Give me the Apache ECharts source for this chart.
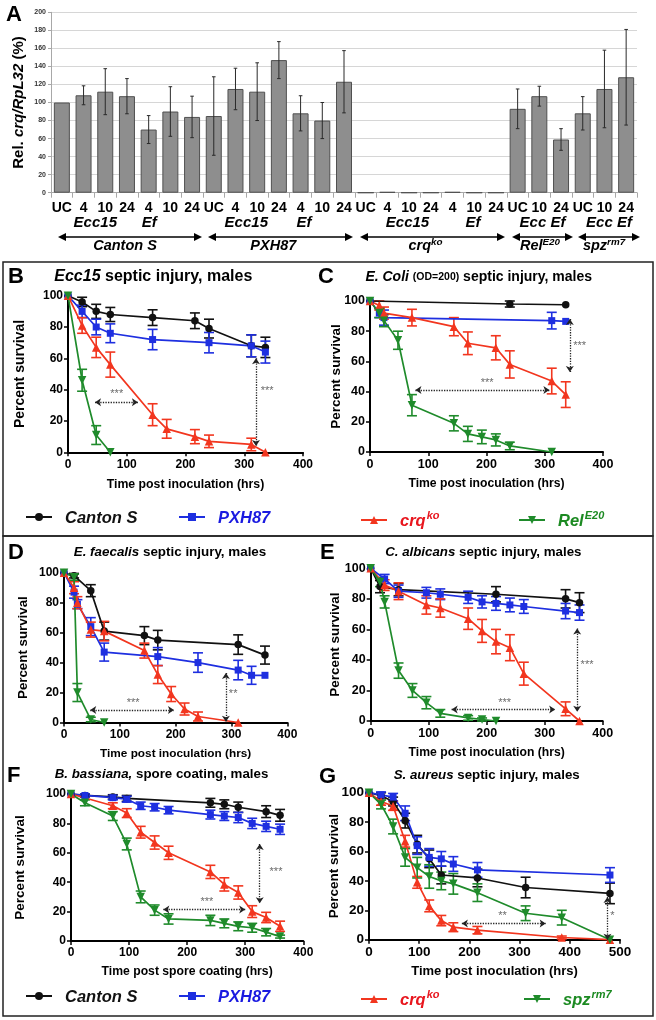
<!DOCTYPE html>
<html><head><meta charset="utf-8">
<script src="https://cdn.jsdelivr.net/npm/echarts@6/dist/echarts.min.js"></script>
<style>html,body{margin:0;padding:0;background:#fff}#c{width:656px;height:1020px}</style>
</head><body><div id="c"></div>
<script>
const FONT = 'Liberation Sans, Arial, Helvetica, sans-serif';

// ---------- Panel A data ----------
const aCategories = ['UC','4','10','24','4','10','24','UC','4','10','24','4','10','24','UC','4','10','24','4','10','24','UC','10','24','UC','10','24'];
const aValues = [100,108,112,107,70,90,84, 85,115,112,147,88,80,123, 0,0.8,0,0,0.8,0,0, 93,107,59, 88,115,128];
const aErrors = [0,10.5,25.5,19.5,15.5,27.5,23, 43.5,23,32,20.5,19.5,20,34.5, 0,0,0,0,0,0,0, 22,11,12, 18.5,43,53];
const aYTicks = [0,20,40,60,80,100,120,140,160,180,200];

// ---------- Survival data: [time (hrs), percent survival, error] ----------
const B_canton = [[0,100,0],[24,96,3],[48,90,4.5],[72,88,4.5],[144,86,5],[216,84,5],[240,79,6],[312,68,7],[336,67,6.5]];
const B_pxh    = [[0,100,0],[24,90,4],[48,80,5],[72,76,6],[144,72,6.5],[240,70,6.5],[312,68,7],[336,64,7]];
const B_crq    = [[0,100,0],[24,81,5],[48,67,6.5],[72,56,8],[144,24,7],[168,15,6],[216,10,4.5],[240,7,4],[312,5,4],[336,0,0]];
const B_green  = [[0,100,0],[24,46,7],[48,11,6],[72,0,0]];

const C_canton = [[0,100,0],[240,98,2],[336,97.5,0]];
const C_pxh    = [[0,100,0],[16,92,3],[24,89,5],[312,87,5.5],[336,86.5,0]];
const C_crq    = [[0,100,0],[16,97,3],[24,92,4],[72,89,5.5],[144,83,6],[168,72,7.5],[216,69,8],[240,58,9],[312,47,8.5],[336,38,8.5]];
const C_green  = [[0,100,0],[16,92,3],[24,87,4],[48,74,6],[72,31,7],[144,19,5],[168,12,5],[192,10,4.5],[216,8,4],[240,4,2.5],[312,0,0]];

const D_canton = [[0,100,0],[18,98,1.5],[48,88,4],[72,61,6],[144,58,6],[168,55,6.5],[312,52,6.5],[360,45,6]];
const D_pxh    = [[0,100,0],[18,87,4],[24,79,3],[48,64,6],[72,47,6],[168,44,6],[240,40,6.5],[312,35,6.5],[336,31.5,6],[360,31.5,0]];
const D_crq    = [[0,100,0],[18,90,4],[24,80,4],[48,62,5],[72,61,6.5],[144,48,5],[168,32,6],[192,19,5],[216,9,4],[240,4,3],[312,0,0]];
const D_green  = [[0,100,0],[18,97,2],[24,20,6],[48,2,1.5],[72,0,0]];

const E_canton = [[0,100,0],[16,88,4],[48,86,4],[216,83,5],[336,80,6],[360,77.5,6.5]];
const E_pxh    = [[0,100,0],[24,93,3],[48,85,4],[96,84,3.5],[120,83,3.5],[168,81,4],[192,78,4],[216,77,4.5],[240,76,4.5],[264,75,4.5],[336,72,5],[360,71,5]];
const E_crq    = [[0,100,0],[24,89,3.5],[48,85,5.5],[96,76,6],[120,74,6],[168,67,7],[192,59,7.5],[216,52,8],[240,48,8.5],[264,31,7.5],[336,8,4.5],[360,0,0]];
const E_green  = [[0,100,0],[16,91,3],[24,78,4],[48,33,5],[72,20,4.5],[96,12,4],[120,5,2.5],[168,2,1.5],[192,1,1],[216,0,0]];

const F_canton = [[0,100,0],[24,99,1],[72,98,1.5],[96,97,2],[240,94,3],[264,93,3],[288,91,3.5],[336,88,4],[360,85.5,4]];
const F_pxh    = [[0,100,0],[24,99,1],[72,97.5,1.5],[96,96.5,2],[120,92,2.5],[144,91,2.5],[168,89,2.5],[240,86,3],[264,85,3],[288,84,3.5],[312,80,3.5],[336,78,3.5],[360,76,3.5]];
const F_crq    = [[0,100,0],[72,92,2],[96,87,3],[120,74,4],[144,67,4.5],[168,60,4.5],[240,47,4.5],[264,38.5,4.5],[288,33,4.5],[312,20,4],[336,16,3.5],[360,10,3.5]];
const F_green  = [[0,100,0],[24,94,2],[72,85,3],[96,66,4],[120,30,4],[144,21,3.5],[168,15,3.5],[240,14,3.5],[264,12,3],[288,10,3],[312,9,3],[336,6,2.5],[360,3,1]];

const G_canton = [[0,100,0],[24,98,2],[48,94,3],[72,81,5],[96,65,6],[120,55,6],[144,44,6],[216,42,6],[312,35.5,7],[480,31.5,7]];
const G_pxh    = [[0,100,0],[24,98.5,2],[48,97,2.5],[72,86,5],[96,64,6],[120,56,6],[144,55,5],[168,51.5,5],[216,47.5,5],[480,44,5]];
const G_crq    = [[0,100,0],[24,94,2.5],[48,91,3],[72,67,4],[96,39,4],[120,23,4],[144,13,3.5],[168,8.5,3],[216,6.5,2.5],[384,1.5,1],[480,0,0]];
const G_green  = [[0,100,0],[24,92,3],[48,77,5],[72,56,6],[96,49,7],[120,43,8],[144,40,6],[168,38,7],[216,32,6],[312,18,5],[384,15,5],[480,0,0]];

// significance arrows [x1,y1,x2,y2] and notes [x,y,text] in data units
const B_arrows = [[46,32,119,32],[320,60,320,4]];
const B_notes  = [[83,37,'***'],[339,39,'***']];
const C_arrows = [[343,88,343,53],[78,41,308,41]];
const C_notes  = [[360,70,'***'],[201,46,'***']];
const D_arrows = [[47,8.3,197,8.3],[290,33,290,0.5]];
const D_notes  = [[124,13,'***'],[303,19,'**']];
const E_arrows = [[356,60.6,356,6],[139.5,7.6,318,7.6]];
const E_notes  = [[373,36.6,'***'],[231,12,'***']];
const F_arrows = [[325,66,325,25.6],[159,21.5,300,21.5]];
const F_notes  = [[353,47,'***'],[234,26.3,'***']];
const G_arrows = [[185,11,352,11],[475,29,475,0]];
const G_notes  = [[266,16,'**'],[485,16,'*']];

const survTicks = [0,20,40,60,80,100];

// ---------- styles ----------
const COL = {canton:'#111111', pxh:'#1e2fe0', crq:'#f2361f', green:'#1f8b2b'};
const TXTCOL = {canton:'#111111', pxh:'#1a1ae0', crq:'#e8161e', green:'#1c8a22'};
const SYM = {canton:['circle',7.5], pxh:['rect',7], crq:['triangle',8.5], green:['path://M0,0L10,0L5,9Z',8.5]};

function errRender(color, half, lw) {
  return function (params, api) {
    const x = api.value(0), v = api.value(1), e = api.value(2);
    if (!e) return null;
    const p1 = api.coord([x, v + e]), p2 = api.coord([x, v - e]);
    const st = {stroke: color, lineWidth: lw};
    return {type:'group', children:[
      {type:'line', shape:{x1:p1[0], y1:p1[1], x2:p2[0], y2:p2[1]}, style:st},
      {type:'line', shape:{x1:p1[0]-half, y1:p1[1], x2:p1[0]+half, y2:p1[1]}, style:st},
      {type:'line', shape:{x1:p2[0]-half, y1:p2[1], x2:p2[0]+half, y2:p2[1]}, style:st}
    ]};
  };
}

const grids = [], xAxes = [], yAxes = [], series = [];

// ---------- Panel A ----------
grids.push({left:51, top:12.3, width:586, height:180.4});
xAxes.push({type:'category', gridIndex:0, data:aCategories,
  axisLine:{lineStyle:{color:'#a8a8a8'}}, axisTick:{show:true, length:5, lineStyle:{color:'#a8a8a8'}},
  axisLabel:{interval:0, margin:8, fontSize:14, fontWeight:'bold', color:'#000', fontFamily:FONT}});
yAxes.push({type:'value', gridIndex:0, min:aYTicks[0], max:aYTicks[aYTicks.length-1], interval:20,
  axisLine:{show:true, lineStyle:{color:'#a8a8a8'}}, axisTick:{show:true, length:3, lineStyle:{color:'#a8a8a8'}},
  axisLabel:{fontSize:7, fontWeight:'bold', color:'#333', margin:5, fontFamily:FONT},
  splitLine:{lineStyle:{color:'#d6d6d6'}},
  name:'{n|Rel. }{i|crq/RpL32}{n| (%)}', nameLocation:'middle', nameGap:25, nameMoveOverlap:false,
  nameTextStyle:{rich:{n:{fontSize:15, fontWeight:'bold', fontFamily:FONT, color:'#000'},
                       i:{fontSize:15, fontWeight:'bold', fontStyle:'italic', fontFamily:FONT, color:'#000'}}}});
series.push({type:'bar', xAxisIndex:0, yAxisIndex:0, data:aValues, barWidth:16, z:2,
  itemStyle:{color:'#8e8e8e', borderColor:'#505050', borderWidth:1}});
series.push({type:'custom', name:'aerr', xAxisIndex:0, yAxisIndex:0, z:3,
  data:aValues.map((v,i)=>[i, v, aErrors[i]]), renderItem:errRender('#2a2a2a', 1.8, 1)});

// ---------- Survival panels ----------
const panels = [
  {grid:{left:68, top:295.7, width:235, height:156.6}, xmax:400, xName:'Time post inoculation (hrs)', xNameSize:12.3, xGap:26, tick:12, yGap:41, yNameSize:14, green:'RelE20', data:[B_canton,B_pxh,B_crq,B_green], arrows:B_arrows, notes:B_notes},
  {grid:{left:370, top:301, width:233, height:151}, xmax:400, xName:'Time post inoculation (hrs)', xNameSize:12.2, xGap:26, tick:12.5, yGap:27, yNameSize:13.5, green:'RelE20', data:[C_canton,C_pxh,C_crq,C_green], arrows:C_arrows, notes:C_notes},
  {grid:{left:64, top:572.7, width:223.3, height:149.8}, xmax:400, xName:'Time post inoculation (hrs)', xNameSize:11.8, xGap:25, tick:12, yGap:34, yNameSize:13.3, green:'spzrm7', data:[D_canton,D_pxh,D_crq,D_green], arrows:D_arrows, notes:D_notes},
  {grid:{left:370.7, top:568.3, width:232, height:152.7}, xmax:400, xName:'Time post inoculation (hrs)', xNameSize:12.2, xGap:26, tick:12.5, yGap:28, yNameSize:13.5, green:'spzrm7', data:[E_canton,E_pxh,E_crq,E_green], arrows:E_arrows, notes:E_notes},
  {grid:{left:71, top:794, width:232.3, height:147}, xmax:400, xName:'Time post spore coating (hrs)', xNameSize:12.2, xGap:25, tick:12, yGap:44, yNameSize:13.5, green:'spzrm7', data:[F_canton,F_pxh,F_crq,F_green], arrows:F_arrows, notes:F_notes},
  {grid:{left:369, top:792.7, width:251, height:147}, xmax:500, xName:'Time post inoculation (hrs)', xNameSize:13, xGap:25, tick:13.5, yGap:28, yNameSize:13.5, green:'spzrm7', data:[G_canton,G_pxh,G_crq,G_green], arrows:G_arrows, notes:G_notes}
];
const keys = ['canton','pxh','crq','green'];

panels.forEach((p, k0) => {
  const k = k0 + 1;
  grids.push(p.grid);
  xAxes.push({type:'value', gridIndex:k, min:0, max:p.xmax, interval:100,
    axisLine:{show:true, onZero:false, lineStyle:{color:'#000', width:2}},
    axisTick:{show:true, length:4, lineStyle:{color:'#000', width:1.5}},
    axisLabel:{fontSize:p.tick, fontWeight:'bold', color:'#000', margin:6, fontFamily:FONT},
    splitLine:{show:false},
    name:p.xName, nameLocation:'middle', nameGap:p.xGap, nameMoveOverlap:false,
    nameTextStyle:{fontSize:p.xNameSize, fontWeight:'bold', color:'#000', fontFamily:FONT}});
  yAxes.push({type:'value', gridIndex:k, min:survTicks[0], max:survTicks[survTicks.length-1], interval:20,
    axisLine:{show:true, onZero:false, lineStyle:{color:'#000', width:2}},
    axisTick:{show:true, length:4, lineStyle:{color:'#000', width:1.5}},
    axisLabel:{fontSize:p.tick, fontWeight:'bold', color:'#000', margin:5, fontFamily:FONT},
    splitLine:{show:false},
    name:'Percent survival', nameLocation:'middle', nameGap:p.yGap, nameMoveOverlap:false,
    nameTextStyle:{fontSize:p.yNameSize, fontWeight:'bold', color:'#000', fontFamily:FONT}});
  keys.forEach((key, j) => {
    const arr = p.data[j];
    const nm = key === 'canton' ? 'Canton S' : key === 'pxh' ? 'PXH87' : key === 'crq' ? 'crqko' : p.green;
    series.push({type:'custom', name:nm + '_err', xAxisIndex:k, yAxisIndex:k, z:3, silent:true,
      data:arr.map(d => [d[0], d[1], d[2]]), renderItem:errRender(COL[key], 5, 1.6)});
    series.push({type:'line', name:nm, xAxisIndex:k, yAxisIndex:k, z:4, clip:false,
      data:arr.map(d => [d[0], d[1]]), symbol:SYM[key][0], symbolSize:SYM[key][1], showSymbol:true,
      lineStyle:{color:COL[key], width:1.7}, itemStyle:{color:COL[key]}});
  });
  series.push({type:'scatter', name:'annot' + k, xAxisIndex:k, yAxisIndex:k, z:5, silent:true, symbolSize:1,
    itemStyle:{color:'rgba(0,0,0,0)'},
    data:p.notes.map(n => ({value:[n[0], n[1]], label:{show:true, formatter:n[2], position:'inside', color:'#444', fontSize:11, fontFamily:FONT}})),
    markLine:{silent:true, symbol:['arrow','arrow'], symbolSize:6, animation:false,
      lineStyle:{type:'dotted', color:'#222', width:1.3}, label:{show:false},
      emphasis:{disabled:true},
      data:p.arrows.map(a => [{coord:[a[0], a[1]]}, {coord:[a[2], a[3]]}])}});
});

// ---------- Legends ----------
function supRich(color) {
  return {
    m:{fontSize:16.5, fontWeight:'bold', fontStyle:'italic', fontFamily:FONT, color:color, lineHeight:20, verticalAlign:'bottom'},
    s:{fontSize:11, fontWeight:'bold', fontStyle:'italic', fontFamily:FONT, color:color, lineHeight:20, verticalAlign:'top', padding:[0,0,0,1]}
  };
}
function mkLegend(name, left, top, key, fmt) {
  return {left:left, top:top, padding:0, itemWidth:26, itemHeight:10, selectedMode:false, data:[name],
    formatter: () => fmt,
    textStyle:{color:TXTCOL[key], fontSize:16.5, fontWeight:'bold', fontStyle:'italic', fontFamily:FONT, padding:[0,0,0,8], rich:supRich(TXTCOL[key])}};
}
const legends = [
  mkLegend('Canton S', 25, 510, 'canton', '{m|Canton S}'),
  mkLegend('PXH87', 178, 510, 'pxh', '{m|PXH87}'),
  mkLegend('crqko', 360, 510, 'crq', '{m|crq}{s|ko}'),
  mkLegend('RelE20', 518, 510, 'green', '{m|Rel}{s|E20}'),
  mkLegend('Canton S', 25, 989, 'canton', '{m|Canton S}'),
  mkLegend('PXH87', 178, 989, 'pxh', '{m|PXH87}'),
  mkLegend('crqko', 360, 989, 'crq', '{m|crq}{s|ko}'),
  mkLegend('spzrm7', 523, 989, 'green', '{m|spz}{s|rm7}')
];

// ---------- Graphic text / boxes ----------
function rich(size, color) {
  color = color || '#000';
  return {
    n:{fontSize:size, fontWeight:'bold', fontFamily:FONT, fill:color, color:color},
    i:{fontSize:size, fontWeight:'bold', fontStyle:'italic', fontFamily:FONT, fill:color, color:color},
    p:{fontSize:size*0.75, fontWeight:'bold', fontFamily:FONT, fill:color, color:color},
    s:{fontSize:size*0.68, fontWeight:'bold', fontStyle:'italic', fontFamily:FONT, fill:color, color:color, verticalAlign:'top', lineHeight:size*1.2},
    m:{fontSize:size, fontWeight:'bold', fontStyle:'italic', fontFamily:FONT, fill:color, color:color, lineHeight:size*1.2}
  };
}
function txt(x, y, text, size, align) {
  align = align || 'center';
  return {type:'text', x:x, y:y, silent:true, z:10,
    style:{text:text, rich:rich(size), fontSize:size, fontWeight:'bold', fontFamily:FONT, fill:'#000',
      align:align, verticalAlign:'middle', textAlign:align, textVerticalAlign:'middle'}};
}
function dblArrow(x1, x2, y) {
  const h = 8, w = 4;
  return [
    {type:'line', silent:true, shape:{x1:x1+h-1, y1:y, x2:x2-h+1, y2:y}, style:{stroke:'#000', lineWidth:1.6}},
    {type:'polygon', silent:true, shape:{points:[[x1,y],[x1+h,y-w],[x1+h,y+w]]}, style:{fill:'#000'}},
    {type:'polygon', silent:true, shape:{points:[[x2,y],[x2-h,y-w],[x2-h,y+w]]}, style:{fill:'#000'}}
  ];
}
const graphics = [
  {type:'rect', silent:true, shape:{x:3, y:262, width:650, height:274}, style:{fill:'none', stroke:'#222', lineWidth:1.5}},
  {type:'rect', silent:true, shape:{x:3, y:536, width:650, height:480}, style:{fill:'none', stroke:'#222', lineWidth:1.5}},
  txt(6, 14.5, '{n|A}', 22, 'left'),
  txt(8, 276.5, '{n|B}', 22, 'left'),
  txt(318, 276.5, '{n|C}', 22, 'left'),
  txt(8, 552.5, '{n|D}', 22, 'left'),
  txt(320, 552.5, '{n|E}', 22, 'left'),
  txt(7, 776, '{n|F}', 22, 'left'),
  txt(319, 777, '{n|G}', 22, 'left'),
  txt(153.3, 277, '{i|Ecc15}{n| septic injury, males}', 16),
  txt(478.7, 277, '{i|E. Coli }{p|(OD=200)}{n| septic injury, males}', 14),
  txt(170, 552.7, '{i|E. faecalis}{n| septic injury, males}', 13.4),
  txt(483.3, 552, '{i|C. albicans}{n| septic injury, males}', 13.3),
  txt(161.5, 774.3, '{i|B. bassiana,}{n| spore coating, males}', 13.3),
  txt(486.7, 775, '{i|S. aureus}{n| septic injury, males}', 13.3),
  // Panel A group labels
  txt(95.3, 223, '{i|Ecc15}', 15), txt(149.3, 223, '{i|Ef}', 15),
  txt(246.3, 223, '{i|Ecc15}', 15), txt(304, 223, '{i|Ef}', 15),
  txt(407.5, 223, '{i|Ecc15}', 15), txt(473, 223, '{i|Ef}', 15),
  txt(542.5, 223, '{i|Ecc Ef}', 15), txt(609, 223, '{i|Ecc Ef}', 15),
  // strain names
  txt(125, 245.5, '{i|Canton S}', 14.5), txt(273.3, 245.5, '{i|PXH87}', 14.5),
  txt(425.5, 245.5, '{m|crq}{s|ko}', 14.5), txt(540, 245.5, '{m|Rel}{s|E20}', 14.5),
  txt(604, 245.5, '{m|spz}{s|rm7}', 14.5)
].concat(dblArrow(58, 202, 237), dblArrow(208, 353, 237), dblArrow(360, 505, 237),
         dblArrow(512, 573, 237), dblArrow(578, 640, 237));

const chart = echarts.init(document.getElementById('c'), null, {renderer:'canvas'});
chart.setOption({
  animation:false,
  backgroundColor:'#fff',
  textStyle:{fontFamily:FONT},
  grid:grids, xAxis:xAxes, yAxis:yAxes, series:series,
  legend:legends,
  graphic:{elements:graphics}
});
</script></body></html>
